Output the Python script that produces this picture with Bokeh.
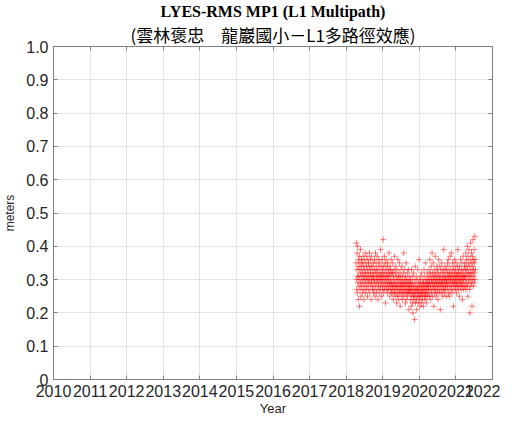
import numpy as np
import pandas as pd
from bokeh.plotting import figure
from bokeh.models import FixedTicker, LinearAxis, Title, Range1d, PrintfTickFormatter, CustomJSTickFormatter
from bokeh.embed import file_html
from bokeh.resources import INLINE

title_line1 = "LYES-RMS MP1 (L1 Multipath)"
title_line2 = "(雲林褒忠\u3000龍巖國小－L1多路徑效應)"
x_label = "Year"
y_label = "meters"
x_ticks = list(range(2010, 2023))
y_ticks = [0, 0.1, 0.2, 0.3, 0.4, 0.5, 0.6, 0.7, 0.8, 0.9, 1.0]
start_date = "2018-04-10"
step = "2D"

seg_2018a = [.35,.41,.30,.27,.33,.38,.26,.31,.40,.29,.34,.24,.36,.31,.28,.33,.37,.22,.30,.35,
.27,.32,.39,.29,.25,.34,.31,.36,.28,.33,.30,.26,.35,.32,.29,.37,.27,.31,.34,.24,
.30,.36,.33,.28,.31,.38,.26,.32,.29,.35,.30,.27,.34,.31,.37,.28,.33,.25,.30,.36,
.32,.29,.35,.27,.31,.34,.30,.38,.26,.33,.29,.32,.36,.28,.31,.24,.34,.30,.37,.29,
.33,.27,.31,.35,.28,.32,.30,.26]
seg_2018b = [.31,.34,.27,.30,.36,.29,.33,.25,.32,.38,.28,.30,.35,.26,.31,.33,.29,.37,.27,.32,
.30,.24,.34,.31,.28,.36,.29,.33,.26,.31,.35,.30,.27,.32,.39,.28,.30,.34,.25,.31,
.29,.36,.32,.27,.30,.33,.28,.42,.31,.26,.34,.29,.32,.37,.27,.30,.35,.28,.31,.23,
.33,.29,.36,.30,.27,.32,.34,.28,.31,.26,.35,.29,.30,.33,.27,.31,.38,.28,.32,.29,
.25,.34,.30,.27,.33,.31,.28,.36,.29,.26,.32]
seg_2019a = [.29,.26,.32,.28,.35,.27,.30,.24,.31,.28,.33,.26,.29,.37,.27,.30,.25,.32,.28,.34,
.26,.29,.31,.23,.28,.33,.27,.30,.25,.36,.28,.26,.31,.29,.24,.32,.27,.30,.35,.26,
.28,.22,.31,.29,.27,.33,.25,.28,.30,.26,.34,.27,.29,.24,.31,.28,.26,.32,.29,.38,
.27,.25,.30,.28,.33,.26,.29,.23,.31,.27,.28,.35,.26,.30,.24,.29,.27,.32,.25,.28,
.30,.26,.33,.27,.29,.21,.28,.31,.26,.29,.27]
seg_2019b = [.27,.24,.30,.26,.29,.22,.28,.33,.25,.27,.31,.23,.26,.29,.20,.28,.25,.32,.27,.24,
.30,.26,.18,.28,.25,.34,.27,.23,.29,.26,.31,.24,.27,.21,.28,.30,.25,.27,.33,.26,
.23,.29,.27,.25,.36,.28,.24,.26,.30,.22,.27,.29,.25,.31,.26,.28,.23,.27,.32,.25,
.29,.26,.24,.28,.30,.27,.22,.29,.26,.33,.28,.25,.27,.31,.24,.29,.26,.35,.28,.25,
.30,.27,.23,.29,.26,.32,.28,.25,.30,.27,.29]
seg_2020a = [.28,.31,.26,.33,.29,.25,.30,.36,.27,.32,.28,.24,.31,.29,.34,.26,.30,.27,.38,.29,
.25,.32,.28,.30,.35,.27,.31,.22,.29,.33,.28,.26,.31,.30,.37,.27,.29,.32,.25,.30,
.28,.34,.26,.31,.29,.27,.33,.30,.24,.32,.28,.36,.29,.26,.31,.30,.27,.34,.29,.21,
.31,.28,.33,.26,.30,.29,.35,.27,.32,.28,.30,.25,.33,.29,.31,.27,.39,.30,.28,.32,
.26,.30,.34,.29,.27,.31,.28,.33,.30,.25,.29]
seg_2020b = [.30,.33,.27,.31,.35,.28,.32,.29,.36,.26,.31,.30,.34,.28,.32,.25,.30,.37,.29,.31,
.27,.33,.30,.38,.28,.31,.26,.32,.29,.35,.30,.27,.33,.31,.22,.29,.34,.30,.28,.32,
.36,.29,.31,.27,.33,.30,.28,.35,.31,.29,.26,.32,.30,.34,.28,.31,.39,.29,.32,.27,
.30,.33,.28,.31,.25,.34,.30,.29,.32,.36,.28,.31,.30,.27,.33,.29,.35,.31,.28,.24,
.32,.30,.37,.29,.31,.27,.33,.30,.28,.34,.31]
seg_2021a = [.31,.35,.28,.33,.30,.38,.27,.32,.36,.29,.34,.31,.40,.28,.33,.25,.37,.30,.32,.35,
.29,.39,.31,.27,.34,.20,.32,.36,.30,.41,.28,.33,.31,.38,.29,.35,.22,.32,.37,.30,
.34,.42,.28,.33,.36,.31,.39,.29,.35,.32,.43,.30,.36,.33]

values = seg_2018a + seg_2018b + seg_2019a + seg_2019b + seg_2020a + seg_2020b + seg_2021a
dates = pd.date_range(start_date, periods=len(values), freq=step)
years = dates.year + (dates.dayofyear - 1) / 365.25

p = figure(frame_width=439, frame_height=333, output_backend="svg", toolbar_location=None,
           title=None, x_range=Range1d(2010, 2022), y_range=Range1d(0, 1),
           min_border_left=49, min_border_right=8, min_border_top=42, min_border_bottom=37)
p.background_fill_color = "white"
p.border_fill_color = "white"
p.outline_line_color = "#808080"
p.outline_line_width = 1

p.scatter(x=years, y=values, marker="cross", size=6, line_color="#ff0000",
          line_alpha=0.5, line_width=1)

tick_font = "Liberation Sans"
for ax in (p.xaxis[0], p.yaxis[0]):
    ax.major_tick_in = 4
    ax.major_tick_out = 0
    ax.minor_tick_line_color = None
    ax.axis_line_color = "#808080"
    ax.major_tick_line_color = "#808080"
    ax.major_label_text_font = tick_font
    ax.major_label_text_color = "#262626"
    ax.axis_label_text_font = tick_font
    ax.axis_label_text_font_style = "normal"
    ax.axis_label_text_color = "#262626"

p.xaxis[0].ticker = FixedTicker(ticks=x_ticks)
p.xaxis[0].major_label_text_font_size = "16px"
p.xaxis[0].major_label_standoff = 5
p.xaxis[0].axis_label = x_label
p.xaxis[0].axis_label_text_font_size = "13px"
p.xaxis[0].axis_label_standoff = 1

p.yaxis[0].ticker = FixedTicker(ticks=y_ticks)
p.yaxis[0].formatter = PrintfTickFormatter(format="%.1f")
p.yaxis[0].major_label_overrides = {0: "0"}
p.yaxis[0].major_label_text_font_size = "16px"
p.yaxis[0].major_label_standoff = 5
p.yaxis[0].axis_label = y_label
p.yaxis[0].axis_label_text_font_size = "12px"
p.yaxis[0].axis_label_standoff = 6

p.xgrid[0].ticker = FixedTicker(ticks=x_ticks)
p.ygrid[0].ticker = FixedTicker(ticks=y_ticks)
p.xgrid.grid_line_color = "#e3e3e3"
p.ygrid.grid_line_color = "#e3e3e3"

blank = CustomJSTickFormatter(code="return '';")
right = LinearAxis(ticker=FixedTicker(ticks=y_ticks), formatter=blank,
                   major_tick_in=4, major_tick_out=0, minor_tick_line_color=None,
                   axis_line_color="#808080", major_tick_line_color="#808080",
                   major_label_standoff=0)
top = LinearAxis(ticker=FixedTicker(ticks=x_ticks), formatter=blank,
                 major_tick_in=4, major_tick_out=0, minor_tick_line_color=None,
                 axis_line_color="#808080", major_tick_line_color="#808080",
                 major_label_standoff=0)
p.add_layout(right, "right")
p.add_layout(top, "above")

t2 = Title(text=title_line2, align="center", text_font="Noto Sans CJK TC",
           text_font_size="17px", text_font_style="normal", text_color="#000000",
           standoff=0, offset=0)
t1 = Title(text=title_line1, align="center", text_font="Liberation Serif",
           text_font_size="16px", text_font_style="bold", text_color="#000000",
           vertical_align="bottom", text_line_height=1.6, standoff=0)
p.add_layout(t2, "above")
p.add_layout(t1, "above")

open("out.html", "w").write(file_html(p, INLINE))
